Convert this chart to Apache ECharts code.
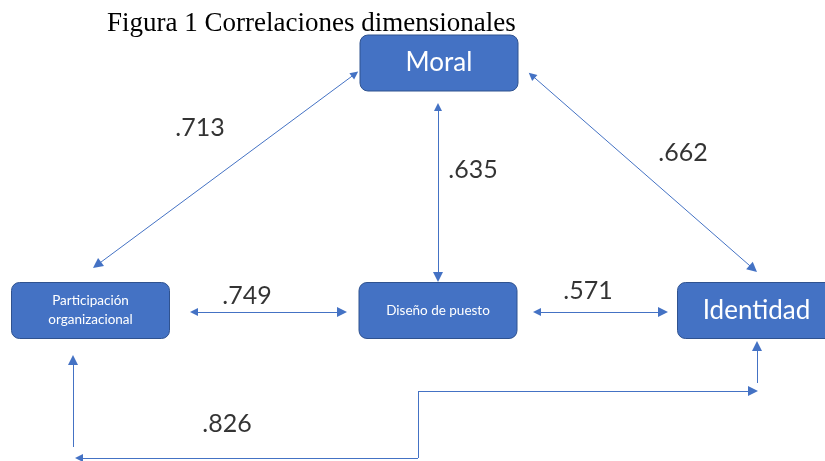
<!DOCTYPE html>
<html>
<head>
<meta charset="utf-8">
<script src="https://cdn.jsdelivr.net/npm/echarts@6/dist/echarts.min.js"></script>
<style>
  html, body { margin: 0; padding: 0; background: #fff; }
  #main { width: 825px; height: 461px; }
</style>
</head>
<body>
<div id="main"></div>
<script>
// constructs and correlations
var nodeNames = ['Moral', 'Participación\norganizacional', 'Diseño de puesto', 'Identidad'];
var nodeFontSizes = [26, 13.5, 13.5, 26];
var correlations = ['.713', '.635', '.662', '.749', '.571', '.826'];

// layout (pixel space of the drawing); arrow ends are the arrow tips
var nodeCenters = [[439, 63], [90.5, 310.5], [438, 310.5], [756.5, 310.5]];
var labelCenters = [[200, 128], [473, 170], [683, 153], [247, 296], [588, 291], [227, 424]];
var twoWaySegs = [
  [[359, 71], [93, 268]],
  [[438, 102], [438, 282]],
  [[528, 72], [757, 272]],
  [[189, 312], [347, 312]],
  [[532, 312], [668, 312]]
];
var startArrowSegs = [[[74, 458], [418, 458]]];
var plainSegs = [[[418, 458], [418, 391]]];
var endArrowSegs = [
  [[418, 391], [758, 391]],
  [[73, 447], [73, 355]],
  [[757, 383], [757, 341]]
];

var BLUE = '#4472C4';
var TIP = 5;   // half arrow length, the symbol is drawn centred on its point
var chart = echarts.init(document.getElementById('main'));

function pull(p, q, d) {
  var dx = q[0] - p[0], dy = q[1] - p[1];
  var len = Math.sqrt(dx * dx + dy * dy);
  return [p[0] + dx / len * d, p[1] + dy / len * d];
}

function linesSeries(segs, sym) {
  return {
    type: 'lines', coordinateSystem: 'cartesian2d',
    symbol: sym, symbolSize: [8, 10],
    lineStyle: { color: BLUE, width: 1, opacity: 1 },
    data: segs.map(function (s) {
      var a = sym[0] === 'none' ? s[0] : pull(s[0], s[1], TIP);
      var b = sym[1] === 'none' ? s[1] : pull(s[1], s[0], TIP);
      return { coords: [a, b] };
    })
  };
}

var boxData = nodeNames.map(function (n, i) {
  return [nodeCenters[i][0], nodeCenters[i][1], n, nodeFontSizes[i]];
});
var labelData = correlations.map(function (v, i) {
  return { value: labelCenters[i], name: v };
});

chart.setOption({
  animation: false,
  title: {
    text: 'Figura 1 Correlaciones dimensionales',
    left: 102, top: 5,
    textStyle: { fontFamily: 'Liberation Serif', fontWeight: 'normal', fontSize: 27, color: '#000' }
  },
  grid: { left: 0, right: 0, top: 0, bottom: 0 },
  xAxis: { type: 'value', min: 0, max: 825, show: false },
  yAxis: { type: 'value', min: 0, max: 461, inverse: true, show: false },
  series: [
    linesSeries(twoWaySegs, ['triangle', 'triangle']),
    linesSeries(startArrowSegs, ['triangle', 'none']),
    linesSeries(plainSegs, ['none', 'none']),
    linesSeries(endArrowSegs, ['none', 'triangle']),
    {
      type: 'custom', coordinateSystem: 'cartesian2d',
      data: boxData,
      renderItem: function (params, api) {
        var c = api.coord([api.value(0), api.value(1)]);
        var w = 158, h = 56;
        return {
          type: 'group',
          children: [
            {
              type: 'rect',
              shape: { x: c[0] - w / 2, y: c[1] - h / 2, width: w, height: h, r: 8 },
              style: { fill: BLUE, stroke: '#2F528F', lineWidth: 1 }
            },
            {
              type: 'text',
              x: c[0], y: c[1],
              style: {
                text: boxData[params.dataIndex][2],
                fill: '#fff', align: 'center', verticalAlign: 'middle',
                fontFamily: 'Lato', fontSize: boxData[params.dataIndex][3],
                lineHeight: 19
              }
            }
          ]
        };
      }
    },
    {
      type: 'scatter', symbolSize: 0,
      data: labelData,
      label: {
        show: true, position: 'inside', formatter: '{b}',
        color: '#000', fontFamily: 'Lato', fontSize: 25
      }
    }
  ]
});
</script>
</body>
</html>
